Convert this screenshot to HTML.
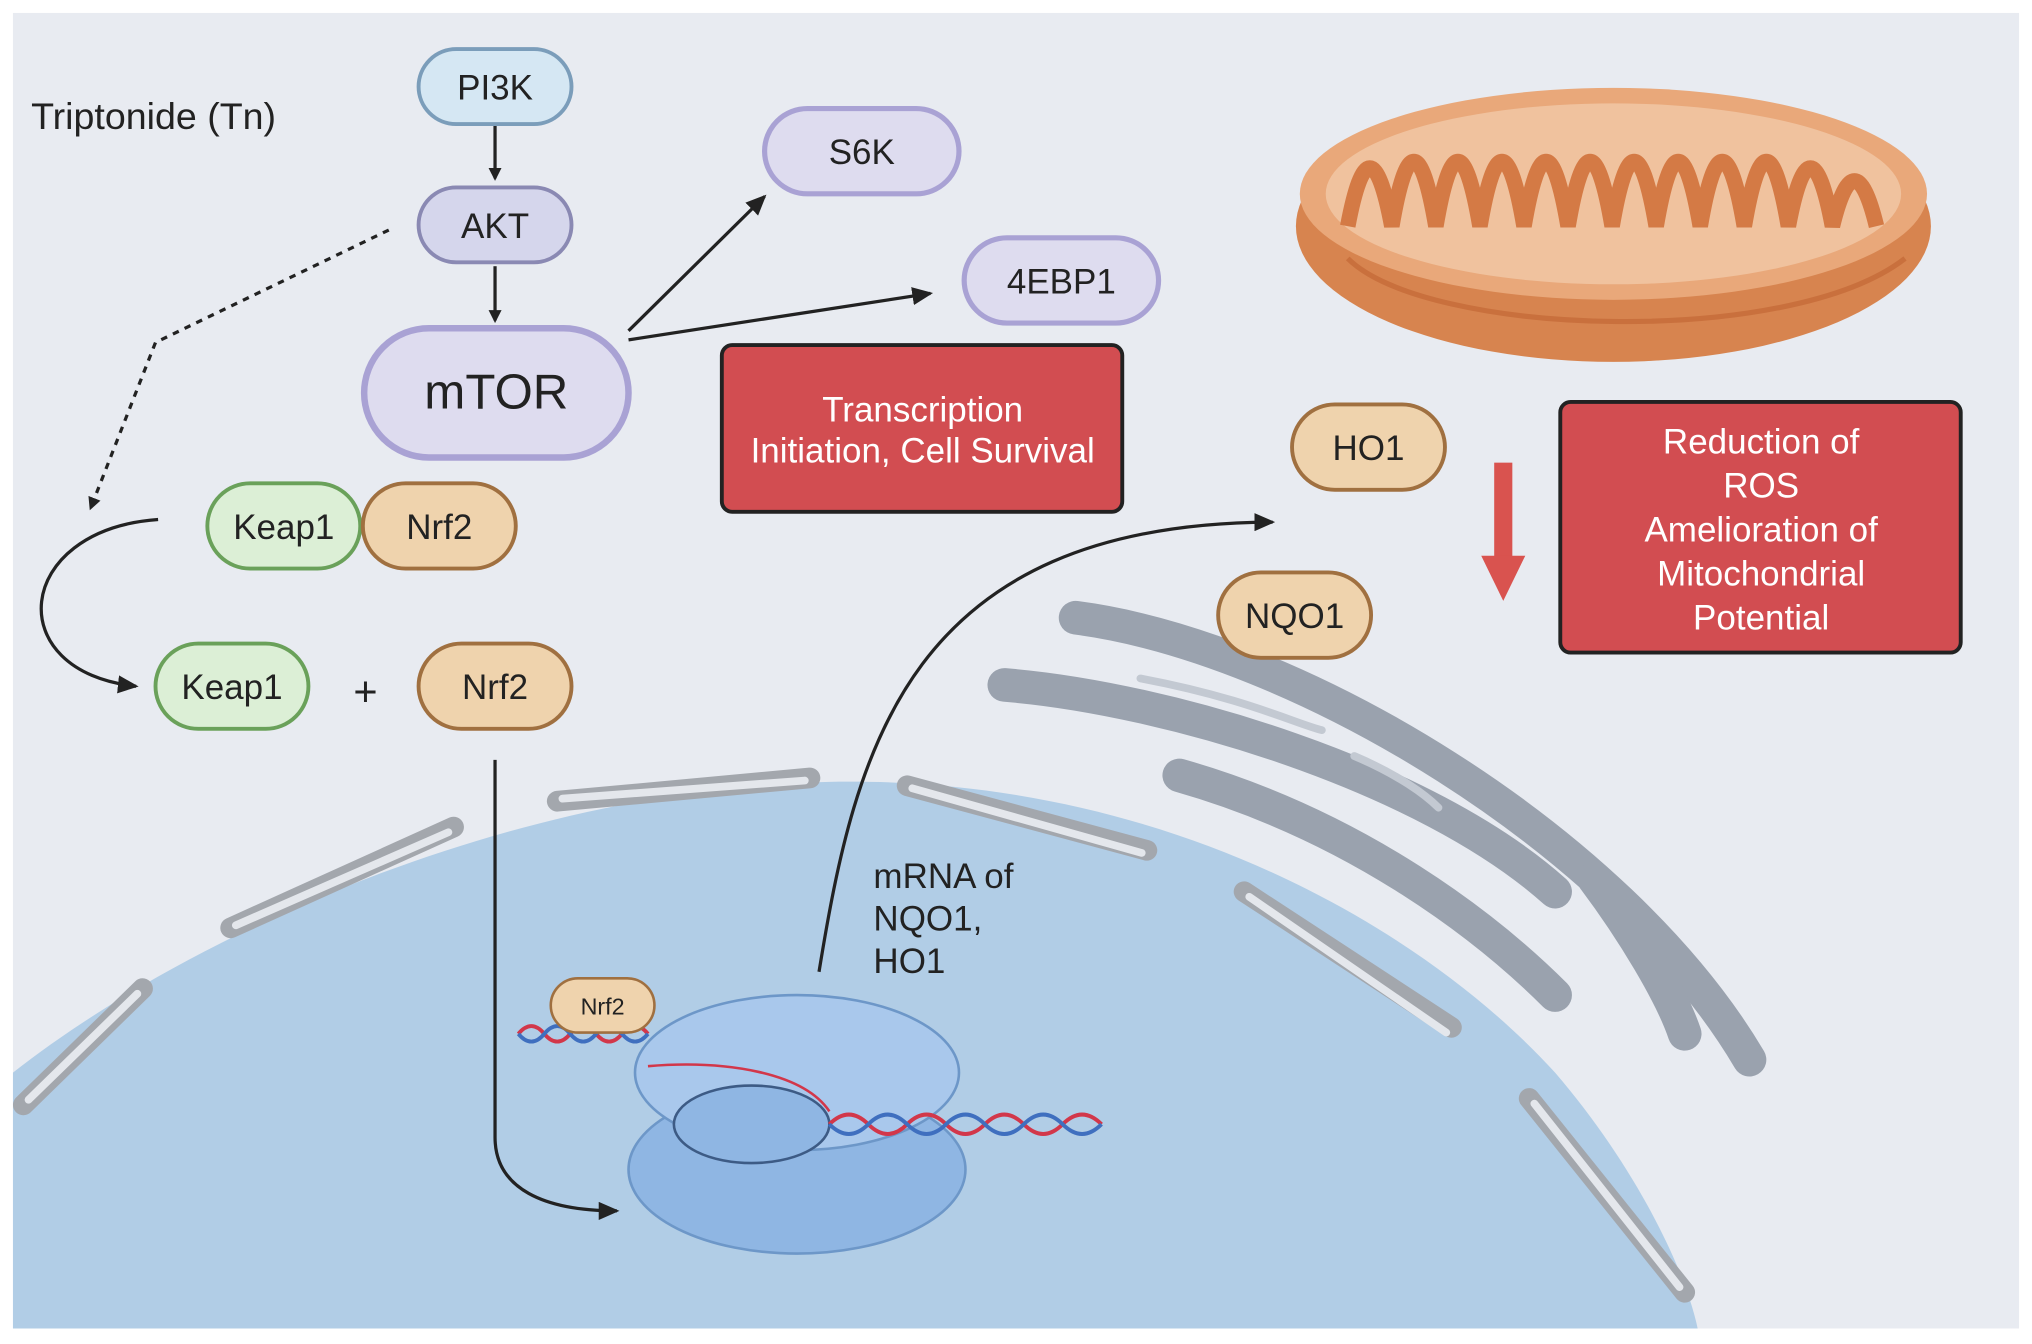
<!DOCTYPE html>
<html><head><meta charset="utf-8"><style>
html,body{margin:0;padding:0;background:#fff}
svg{display:block}
text{font-family:"Liberation Sans",sans-serif;fill:#222}
</style></head><body>
<svg width="2032" height="1344" viewBox="0 0 1568 1040" preserveAspectRatio="none" xmlns="http://www.w3.org/2000/svg">
<defs>
<marker id="ah" markerWidth="10" markerHeight="10" refX="8" refY="5" orient="auto" markerUnits="userSpaceOnUse"><path d="M0,0 L10,5 L0,10 z" fill="#222"/></marker>
<marker id="ah2" markerWidth="16" markerHeight="14" refX="14" refY="7" orient="auto" markerUnits="userSpaceOnUse"><path d="M0,0 L16,7 L0,14 z" fill="#222"/></marker>
</defs>
<rect x="0" y="0" width="1568" height="1040" fill="#fff"/>
<rect x="10" y="10" width="1548" height="1018" fill="#e8ebf1"/>
<path d="M10,830 C150,720 400,610 640,605 C900,600 1100,720 1200,830 C1260,900 1300,980 1310,1028 L10,1028 Z" fill="#b1cde6"/>
<g fill="none" stroke="#a3a7ad" stroke-width="16" stroke-linecap="round">
<path d="M18,855 L110,765"/><path d="M178,718 L350,640"/><path d="M430,620 L625,602"/><path d="M700,608 L885,658"/>
<path d="M960,690 L1120,795"/><path d="M1180,850 L1300,1000"/>
</g>
<g fill="none" stroke="#e4e7ec" stroke-width="6" stroke-linecap="round">
<path d="M22,851 L106,769"/><path d="M182,716 L346,644"/><path d="M434,618 L621,604"/><path d="M704,610 L881,660"/>
<path d="M964,694 L1116,799"/><path d="M1184,854 L1296,996"/>
</g>
<g fill="none" stroke="#9aa2ae" stroke-width="26" stroke-linecap="round">
<path d="M830,478 C1000,500 1250,650 1350,820"/>
<path d="M775,530 C900,540 1100,600 1200,690"/>
<path d="M910,600 C1050,640 1150,720 1200,770"/>
<path d="M1230,680 C1260,720 1290,770 1300,800"/>
</g>
<g fill="none" stroke="#c3c9d2" stroke-width="6" stroke-linecap="round">
<path d="M880,525 C960,540 1000,560 1020,565"/>
<path d="M1045,585 C1080,600 1100,615 1110,625"/>
</g>
<ellipse cx="1245" cy="175" rx="245" ry="105" fill="#d7844f"/>
<ellipse cx="1245" cy="150" rx="242" ry="82" fill="#e9a87a"/>
<ellipse cx="1245" cy="150" rx="222" ry="70" fill="#f0c29e"/>
<path d="M1040,175 q17,-90 34,0 q17,-100 34,0 q17,-100 34,0 q17,-100 34,0 q17,-100 34,0 q17,-100 34,0 q17,-100 34,0 q17,-100 34,0 q17,-100 34,0 q17,-100 34,0 q17,-90 34,0 q17,-70 34,0" fill="none" stroke="#d47a45" stroke-width="12"/>
<path d="M1040,200 C1100,260 1380,270 1470,200" fill="none" stroke="#c9703d" stroke-width="4"/>
<ellipse cx="615" cy="905" rx="130" ry="65" fill="#8fb6e3" stroke="#6d97c8" stroke-width="2"/>
<ellipse cx="615" cy="830" rx="125" ry="60" fill="#a9c8ec" stroke="#6d97c8" stroke-width="2"/>
<ellipse cx="580" cy="870" rx="60" ry="30" fill="#8fb6e3" stroke="#3d5b85" stroke-width="2"/>
<path d="M400,800 q10,-12 20,0 q10,12 20,0 q10,-12 20,0 q10,12 20,0 q10,-12 20,0 M640,870 q15,-15 30,0 q15,15 30,0 q15,-15 30,0 q15,15 30,0 q15,-15 30,0 q15,15 30,0 q15,-15 30,0" fill="none" stroke="#d2374a" stroke-width="3"/>
<path d="M400,800 q10,12 20,0 q10,-12 20,0 q10,12 20,0 q10,-12 20,0 q10,12 20,0 M640,870 q15,15 30,0 q15,-15 30,0 q15,15 30,0 q15,-15 30,0 q15,15 30,0 q15,-15 30,0 q15,15 30,0" fill="none" stroke="#3f6fbf" stroke-width="3"/>
<path d="M500,825 C560,820 620,830 640,860" fill="none" stroke="#d2374a" stroke-width="2"/>
<rect x="425" y="757" width="80" height="42" rx="21" fill="#efd3ad" stroke="#a07040" stroke-width="2"/>
<text x="465" y="785" font-size="18" text-anchor="middle">Nrf2</text>
<g stroke="#222" stroke-width="2.5" fill="none">
<line x1="382" y1="97" x2="382" y2="138" marker-end="url(#ah)"/>
<line x1="382" y1="206" x2="382" y2="248" marker-end="url(#ah)"/>
<line x1="485" y1="256" x2="590" y2="152" marker-end="url(#ah2)"/>
<line x1="485" y1="263" x2="718" y2="227" marker-end="url(#ah2)"/>
<path d="M300,178 L120,265 L70,393" stroke-dasharray="5,5" marker-end="url(#ah)"/>
<path d="M122,402 C10,410 0,520 105,531" marker-end="url(#ah2)"/>
<path d="M382,588 L382,880 C382,920 420,937 476,937" marker-end="url(#ah2)"/>
<path d="M632,752 C660,580 700,405 982,404" marker-end="url(#ah2)"/>
</g>
<rect x="1153" y="358" width="14" height="75" fill="#d9534f"/>
<path d="M1143,430 L1177,430 L1160,465 Z" fill="#d9534f"/>
<g stroke-width="3">
<rect x="323" y="38" width="118" height="58" rx="29" fill="#d5e7f3" stroke="#7b9dba"/>
<rect x="323" y="145" width="118" height="58" rx="29" fill="#d5d6ec" stroke="#8a89b3"/>
<rect x="281" y="254" width="204" height="100" rx="50" fill="#dedcef" stroke="#a9a2d4" stroke-width="5"/>
<rect x="590" y="84" width="150" height="66" rx="33" fill="#dedcef" stroke="#a9a2d4" stroke-width="4"/>
<rect x="744" y="184" width="150" height="66" rx="33" fill="#dedcef" stroke="#a9a2d4" stroke-width="4"/>
<rect x="160" y="374" width="118" height="66" rx="33" fill="#dcefd6" stroke="#6aa15a"/>
<rect x="280" y="374" width="118" height="66" rx="33" fill="#efd3ad" stroke="#a07040"/>
<rect x="120" y="498" width="118" height="66" rx="33" fill="#dcefd6" stroke="#6aa15a"/>
<rect x="323" y="498" width="118" height="66" rx="33" fill="#efd3ad" stroke="#a07040"/>
<rect x="997" y="313" width="118" height="66" rx="33" fill="#efd3ad" stroke="#a07040"/>
<rect x="940" y="443" width="118" height="66" rx="33" fill="#efd3ad" stroke="#a07040"/>
<rect x="557" y="267" width="309" height="129" rx="8" fill="#d24d51" stroke="#222"/>
<rect x="1204" y="311" width="309" height="194" rx="8" fill="#d24d51" stroke="#222"/>
</g>
<g font-size="27" text-anchor="middle">
<text x="382" y="77">PI3K</text>
<text x="382" y="184">AKT</text>
<text x="383" y="316" font-size="38">mTOR</text>
<text x="665" y="127">S6K</text>
<text x="819" y="227">4EBP1</text>
<text x="219" y="417">Keap1</text>
<text x="339" y="417">Nrf2</text>
<text x="179" y="541">Keap1</text>
<text x="282" y="546" font-size="32">+</text>
<text x="382" y="541">Nrf2</text>
<text x="1056" y="356">HO1</text>
<text x="999" y="486">NQO1</text>
</g>
<text x="24" y="100" font-size="29">Triptonide (Tn)</text>
<g font-size="27" text-anchor="middle">
<text x="712" y="326" style="fill:#fff">Transcription</text>
<text x="712" y="358" style="fill:#fff">Initiation, Cell Survival</text>
<text x="1359" y="351" style="fill:#fff">Reduction of</text>
<text x="1359" y="385" style="fill:#fff">ROS</text>
<text x="1359" y="419" style="fill:#fff">Amelioration of</text>
<text x="1359" y="453" style="fill:#fff">Mitochondrial</text>
<text x="1359" y="487" style="fill:#fff">Potential</text>
</g>
<g font-size="27">
<text x="674" y="687">mRNA of</text>
<text x="674" y="720">NQO1,</text>
<text x="674" y="753">HO1</text>
</g>
</svg>
</body></html>
